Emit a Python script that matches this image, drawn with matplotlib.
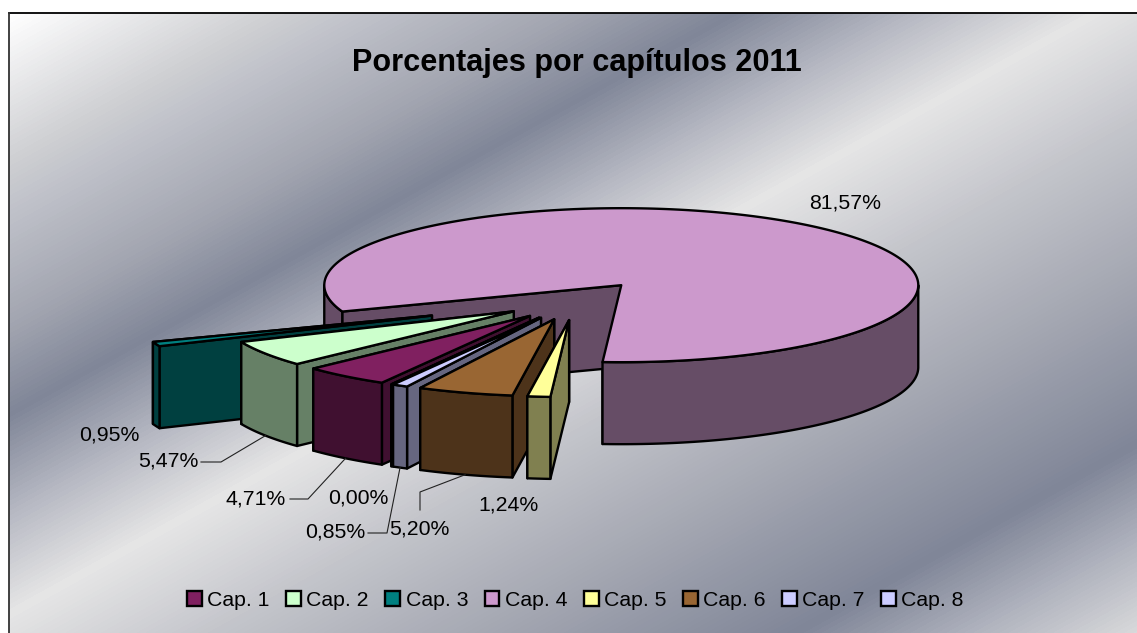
import numpy as np
import matplotlib
matplotlib.use("Agg")
import matplotlib.pyplot as plt
from matplotlib.colors import LinearSegmentedColormap
from matplotlib.patches import Polygon, Patch

plt.rcParams["font.family"] = ["Liberation Sans", "DejaVu Sans"]

TITLE = "Porcentajes por capítulos 2011"
CHAPTERS = ["Cap. 1", "Cap. 2", "Cap. 3", "Cap. 4", "Cap. 5", "Cap. 6", "Cap. 7", "Cap. 8"]
PERCENT = [4.71, 5.47, 0.95, 81.57, 1.24, 5.20, 0.85, 0.00]
EXPLODE = [0.254, 0.254, 0.525, 0.25, 0.254, 0.254, 0.254, 0.254]
TOP_COLORS = ["#802060", "#CCFFCC", "#008080", "#CC99CC", "#FFFF99", "#996633", "#CCCCFF", "#CCCCFF"]
SIDE_COLORS = ["#401030", "#668066", "#004040", "#664D66", "#808050", "#4D331A", "#666680", "#666680"]

# label centres and the elbow of the leader line (None = no leader)
LABEL_POS = [(256, 499), (168, 461), (109, 435), (845, 203), (509, 505), (419, 529), (335, 532), (358, 498)]
LEADER = [[(290, 499), (308, 499)], [(201, 462), (221, 462)], None, None, None,
          [(420, 510), (420, 492)], [(368, 533), (387, 533)], None]

WIDTH, HEIGHT = 1137, 633
CENTER = (576.8, 300.6)
RX, RY = 297.0, 77.0
DEPTH = 82.0
START = 119.9
LW = 1.7

GRAD_POS = [0, 127, 175, 270, 350, 440, 525, 640, 780, 925, 1010, 1103]
GRAD_COL = ["#ffffff", "#cfd0d3", "#bfc1c9", "#a3a6b1", "#808698", "#b8bac4",
            "#e6e6e6", "#c4c5cb", "#a3a6b1", "#808698", "#b0b3be", "#e0e0e0"]


def rim(angle):
    a = np.radians(angle)
    return np.column_stack([RX * np.cos(a), RY * np.sin(a)])


def draw_wedge(ax, a0, a1, boom, top, side):
    mid = rim([(a0 + a1) / 2])[0]
    apex = np.array(CENTER) + boom * mid
    down = np.array([0, DEPTH])
    angles = np.linspace(a0, a1, max(int(a1 - a0) * 2, 2))
    arc = apex + rim(angles)
    style = dict(edgecolor="black", linewidth=LW, joinstyle="round")

    for end in (arc[-1], arc[0]):
        ax.add_patch(Polygon([apex, end, end + down, apex + down], facecolor=side, **style))

    # only the part of the rim facing the viewer gets a wall
    for k in (0, 360):
        lo, hi = max(a0, k), min(a1, k + 180)
        if hi > lo:
            seg = apex + rim(np.linspace(lo, hi, max(int(hi - lo) * 2, 2)))
            ax.add_patch(Polygon(np.vstack([seg, (seg + down)[::-1]]), facecolor=side, **style))

    ax.add_patch(Polygon(np.vstack([apex, arc]), facecolor=top, **style))
    return apex + mid + down


fig = plt.figure(figsize=(WIDTH / 100, HEIGHT / 100), dpi=100, facecolor="white")
ax = fig.add_axes([0, 0, 1, 1])
ax.axis("off")

# diagonal banded background
left, frame_top = 9, 13
xx, yy = np.meshgrid(np.arange(left, WIDTH), np.arange(frame_top, HEIGHT))
t = 0.484 * (xx - left) + 0.875 * (yy - frame_top)
stops = [p / GRAD_POS[-1] for p in GRAD_POS]
cmap = LinearSegmentedColormap.from_list("band", list(zip(stops, GRAD_COL)))
ax.imshow(t, cmap=cmap, vmin=0, vmax=GRAD_POS[-1], extent=[left, WIDTH, HEIGHT, frame_top], aspect="auto", zorder=0)
ax.set_xlim(0, WIDTH)
ax.set_ylim(HEIGHT, 0)
ax.plot([left, WIDTH], [frame_top, frame_top], color="black", lw=1.3, zorder=1)
ax.plot([left, left], [frame_top, HEIGHT], color="#333333", lw=1.3, zorder=1)

spans = np.array(PERCENT) * 3.6
edges = START + np.concatenate([[0], np.cumsum(spans)])
mids = (edges[:-1] + edges[1:]) / 2
# paint from the back of the pie to the front
order = np.argsort(-np.abs(((mids - 90 + 180) % 360) - 180), kind="stable")
anchors = {}
for i in order:
    anchors[i] = draw_wedge(ax, edges[i], edges[i + 1], EXPLODE[i], TOP_COLORS[i], SIDE_COLORS[i])

for i, value in enumerate(PERCENT):
    label = f"{value:.2f}%".replace(".", ",")
    ax.text(*LABEL_POS[i], label, ha="center", va="center", fontsize=15.3, color="black")
    if LEADER[i] is not None:
        pts = np.array(LEADER[i] + [tuple(anchors[i])])
        ax.plot(pts[:, 0], pts[:, 1], color="#222222", lw=0.8)

ax.text(577, 63, TITLE, ha="center", va="center", fontsize=22.1, fontweight="bold", color="black")

handles = [Patch(facecolor=c, edgecolor="black", linewidth=1.7) for c in TOP_COLORS]
ax.legend(handles, CHAPTERS, ncol=8, frameon=False, fontsize=15.3, loc="center",
          bbox_to_anchor=(575.5 / WIDTH, 1 - 600 / HEIGHT), handlelength=0.7, handleheight=0.7,
          handletextpad=0.25, columnspacing=0.775, borderpad=0, borderaxespad=0)

fig.savefig("out.png", dpi=100)
